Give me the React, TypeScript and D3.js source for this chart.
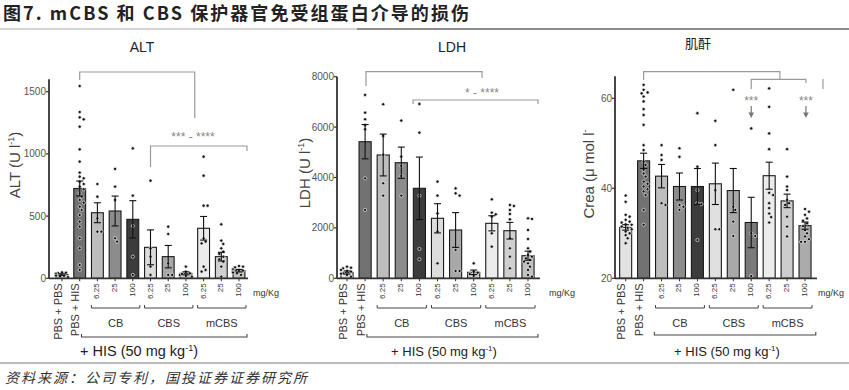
import React from "react";
import * as d3 from "d3";

// ---- data ----
const categories = ["PBS + PBS", "PBS + HIS", "6.25", "25", "100", "6.25", "25", "100", "6.25", "25", "100"];
const groupNames = ["CB", "CBS", "mCBS"];

const altTicks = [0, 500, 1000, 1500];
const altMean = [30, 722, 527, 541, 474, 249, 174, 40, 402, 174, 61];
const altSem = [6, 60, 80, 120, 150, 140, 90, 12, 95, 35, 10];
const altPoints = [
  [45, 48, 42, 30, 25, 20, 15, 35, 10, 28, 38, 22],
  [1546, 1337, 1294, 1278, 1219, 1037, 938, 850, 817, 804, 777, 758, 737, 716, 683, 656, 630, 608, 576, 549, 509, 456, 415, 322, 241, 107, 67],
  [758, 656, 482, 375, 375],
  [879, 737, 630, 322, 295],
  [1045, 665, 421, 174, 27],
  [785, 241, 174, 94, 27],
  [415, 356, 121, 27, 27],
  [94, 27, 40, 19, 54, 35, 13],
  [978, 825, 584, 584, 322, 295, 281, 94, 67, 54],
  [434, 303, 276, 241, 214, 196, 174, 153, 134, 94, 13],
  [99, 88, 72, 67, 54, 46, 27, 40, 94, 62],
];

const ldhTicks = [0, 2000, 4000, 6000, 8000];
const ldhMean = [230, 5420, 4893, 4587, 3571, 2381, 1917, 238, 2182, 1889, 897];
const ldhSem = [60, 680, 830, 620, 1240, 580, 690, 90, 300, 330, 180];
const ldhPoints = [
  [463, 397, 331, 265, 198, 132, 66, 420, 300, 180],
  [7277, 6575, 6311, 6086, 5914, 3969, 2712],
  [6906, 5650, 4900, 3770, 3281],
  [6258, 4829, 4458, 4062, 3281],
  [6919, 5781, 3281, 1164, 754],
  [3837, 3281, 2580, 1852, 595],
  [3572, 3374, 3281, 1125, 291, 291],
  [595, 265, 172, 93, 225],
  [3135, 2606, 2540, 2448, 1786, 1257],
  [2910, 2871, 2712, 2553, 2341, 1588, 1191, 860, 397],
  [2381, 2355, 1918, 1561, 1191, 1058, 926, 860, 794, 728, 661, 595, 463, 331, 132, 66],
];

const creaTicks = [20, 40, 60];
const creaMean = [31.3, 46.1, 42.7, 40.4, 40.4, 41.0, 39.5, 32.4, 42.8, 37.2, 31.7];
const creaSem = [0.6, 1.7, 2.6, 3.0, 4.0, 4.6, 4.9, 5.6, 3.0, 1.5, 0.8];
const creaPoints = [
  [38.4, 37.0, 34.1, 33.7, 33.0, 32.6, 32.4, 31.9, 31.5, 30.9, 30.4, 29.6, 28.9, 27.8, 32.0, 31.2, 30.0],
  [63.0, 61.9, 61.3, 61.1, 60.4, 59.3, 57.6, 56.3, 54.1, 49.6, 48.5, 45.9, 45.2, 44.1, 43.3, 42.6, 41.5, 41.0, 40.4, 39.8, 39.3, 38.5, 35.2, 31.9],
  [49.6, 47.4, 46.3, 36.7, 36.3],
  [48.9, 47.0, 36.3, 35.9, 35.2],
  [56.7, 44.8, 39.6, 36.7, 36.5, 28.5],
  [55.0, 49.6, 39.6, 30.9, 30.9],
  [61.9, 35.9, 35.2, 32.6, 29.4],
  [53.3, 30.0, 29.4, 20.5],
  [62.2, 58.1, 52.2, 48.7, 39.0, 38.5, 36.7, 35.6, 34.4, 33.6, 32.4],
  [48.7, 42.6, 40.4, 39.6, 37.4, 36.7, 36.3, 33.7, 31.5, 29.3],
  [35.4, 34.8, 34.1, 33.3, 32.8, 32.2, 31.6, 30.7, 30.0, 29.3, 28.7, 28.1, 28.1],
];

const FONT = "'Liberation Sans', Arial, Helvetica, sans-serif";
const CJK = "'Noto Sans CJK SC', 'Noto Sans', sans-serif";
const AXIS_Y = 278.3;

const baseFill = ["#e2e2e2", "#727272", "#bdbdbd", "#8c8c8c", "#3c3c3c", "#dcdcdc", "#a8a8a8", "#d0d0d0", "#ececec", "#cfcfcf", "#c2c2c2"];
const creaFill = ["#e2e2e2", "#727272", "#bdbdbd", "#8c8c8c", "#3c3c3c", "#e0e0e0", "#a8a8a8", "#7a7a7a", "#ececec", "#cdcdcd", "#ababab"];

const panels = [
  {
    key: "alt", title: "ALT", titleX: 142, titleY: 52, titleFont: FONT,
    yLabel: ["ALT (U l", "-1", ")"], yLabelX: 20, yLabelY: 165,
    mean: altMean, sem: altSem, points: altPoints, ticks: altTicks, fills: baseFill,
    domain: [0, 1500], range: [AXIS_Y, 91.7], axisTopVal: 1600,
    axisX: 49, axisEnd: 248, xRange: [53.15, 247.85],
    brackets: [
      { a: 1, b: 7.5, y: 72, la: 80, lb: 118 },
      { a: 5, b: 10.45, y: 146, la: 167, lb: 151 },
    ],
    stars: [{ i: 7.4, y: 141, t: "*** - ****" }],
    arrows: [], extra: [],
    bigBrace: [1.1, 10.45, 337], hisX: 4.35, hisSize: 14.5, mgX: 253,
  },
  {
    key: "ldh", title: "LDH", titleX: 452, titleY: 52, titleFont: FONT,
    yLabel: ["LDH (U l", "-1", ")"], yLabelX: 310, yLabelY: 173,
    mean: ldhMean, sem: ldhSem, points: ldhPoints, ticks: ldhTicks, fills: baseFill,
    domain: [0, 8000], range: [AXIS_Y, 76.7], axisTopVal: 8000,
    axisX: 337, axisEnd: 540, xRange: [337.95, 537.05],
    brackets: [
      { a: 1.05, b: 7.46, y: 71.7, la: 86, lb: 78 },
      { a: 3.65, b: 10.55, y: 100, la: 104, lb: 104 },
    ],
    stars: [{ i: 7.46, y: 97, t: "* - ****" }],
    arrows: [], extra: [],
    bigBrace: [1.1, 10.55, 337], hisX: 5.36, hisSize: 13, mgX: 549,
  },
  {
    key: "crea", title: "肌酐", titleX: 698, titleY: 48, titleFont: CJK,
    yLabel: ["Crea (\u03bc mol l", "-", ""], yLabelX: 594, yLabelY: 174,
    mean: creaMean, sem: creaSem, points: creaPoints, ticks: creaTicks, fills: creaFill,
    domain: [20, 60], range: [AXIS_Y, 98.3], axisTopVal: 64.9,
    axisX: 615, axisEnd: 817, xRange: [616.7, 814],
    brackets: [
      { a: 1, b: 8.6, y: 71.7, la: 80, lb: 79.3 },
      { a: 7, b: 10.05, y: 79.3, la: 89, lb: 83 },
    ],
    stars: [{ i: 7, y: 105, t: "***" }, { i: 10.05, y: 105, t: "***" }],
    arrows: [7, 10.05], extra: [{ i: 11, y1: 79, y2: 89 }],
    bigBrace: [1.6, 10.6, 335], hisX: 5.65, hisSize: 13, mgX: 818,
  },
];

type Placed = { dx: number; py: number };

// simple deterministic beeswarm so dots don't sit on top of each other
function swarm(vals: number[], y: (v: number) => number, r: number, maxOff: number): Placed[] {
  const placed: Placed[] = [];
  const out: Placed[] = new Array(vals.length);
  const order = vals.map((_, i) => i).sort((a, b) => vals[b] - vals[a]);
  for (const i of order) {
    const py = y(vals[i]);
    let dx = 0;
    for (let k = 0; k < 24; k++) {
      const cand = k === 0 ? 0 : (k % 2 ? 1 : -1) * Math.ceil(k / 2) * r * 1.25;
      if (Math.abs(cand) > maxOff) continue;
      dx = cand;
      if (placed.every((q) => Math.hypot(q.dx - cand, q.py - py) >= 2 * r + 0.4)) break;
    }
    const p = { dx, py };
    placed.push(p);
    out[i] = p;
  }
  return out;
}

function Panel({ p }: { p: any }) {
  const n = categories.length;
  const x = d3.scaleBand<number>().domain(d3.range(n)).range(p.xRange).paddingInner(0.33).paddingOuter(0.165);
  const step = x.step();
  const bw = x.bandwidth();
  const cx = (i: number) => (x(0) as number) + bw / 2 + i * step;
  const y = d3.scaleLinear().domain(p.domain).range(p.range);
  const base = y(p.domain[0]);
  const r = 1.6;
  const grey = "#9a9a9a";

  return (
    <g>
      <text x={p.titleX} y={p.titleY} textAnchor="middle" fontFamily={p.titleFont} fontSize={p.key === "crea" ? 13 : 14} fill="#222">
        {p.title}
      </text>

      {/* y axis label */}
      <text transform={`translate(${p.yLabelX},${p.yLabelY}) rotate(-90)`} textAnchor="middle" fontFamily={FONT} fontSize={15} fill="#444">
        {p.yLabel[0]}
        <tspan dy={-6} fontSize={9}>{p.yLabel[1]}</tspan>
        <tspan dy={6}>{p.yLabel[2]}</tspan>
      </text>

      {/* bars */}
      {p.mean.map((m: number, i: number) => (
        <rect key={"b" + i} x={x(i)} y={y(m)} width={bw} height={base - y(m)} fill={p.fills[i]} stroke="#1a1a1a" strokeWidth={1.1} />
      ))}

      {/* dots */}
      {p.points.map((vals: number[], i: number) =>
        swarm(vals, y, r, bw / 2 + 1.5).map((d, j) => (
          <circle key={`d${i}-${j}`} cx={cx(i) + d.dx} cy={d.py} r={r} fill="#111" stroke="#f2f2f2" strokeWidth={0.7} />
        ))
      )}

      {/* error bars */}
      {p.mean.map((m: number, i: number) => {
        const hi = y(m + p.sem[i]);
        const lo = y(Math.max(p.domain[0], m - p.sem[i]));
        const c = cx(i);
        return (
          <g key={"e" + i} stroke="#111" strokeWidth={1.1}>
            <line x1={c} x2={c} y1={hi} y2={lo} />
            <line x1={c - 3.5} x2={c + 3.5} y1={hi} y2={hi} />
            <line x1={c - 3.5} x2={c + 3.5} y1={lo} y2={lo} />
          </g>
        );
      })}

      {/* axes */}
      <line x1={p.axisX} x2={p.axisX} y1={y(p.axisTopVal)} y2={base} stroke="#333" strokeWidth={1.8} />
      <line x1={p.axisX} x2={p.axisEnd} y1={base} y2={base} stroke="#333" strokeWidth={1.8} />
      {p.ticks.map((t: number) => (
        <g key={"t" + t}>
          <line x1={p.axisX - 3} x2={p.axisX} y1={y(t)} y2={y(t)} stroke="#333" strokeWidth={1.2} />
          <text x={p.axisX - 3} y={y(t) + 3.5} textAnchor="end" fontFamily={FONT} fontSize={10} fill="#555">{t}</text>
        </g>
      ))}
      {categories.map((_, i) => (
        <line key={"xt" + i} x1={cx(i)} x2={cx(i)} y1={base} y2={base + 3} stroke="#333" strokeWidth={1} />
      ))}

      {/* category labels */}
      {categories.map((c, i) =>
        i < 2 ? (
          <text key={"xl" + i} transform={`translate(${cx(i) - 0.5},${base + 5}) rotate(-90)`} textAnchor="end" fontFamily={FONT} fontSize={11} fill="#333">{c}</text>
        ) : (
          <text key={"xl" + i} transform={`translate(${cx(i) + 2},${base + 5}) rotate(-90)`} textAnchor="end" fontFamily={FONT} fontSize={8} fill="#333">{c}</text>
        )
      )}
      <text x={p.mgX} y={296} fontFamily={FONT} fontSize={9} fill="#333">mg/Kg</text>

      {/* group braces */}
      {groupNames.map((g, k) => {
        const a = cx(2 + k * 3) - 6;
        const b = cx(4 + k * 3) + 7;
        return (
          <g key={"g" + g}>
            <path d={`M${a},305 L${a},308 L${b},308 L${b},305`} fill="none" stroke="#444" strokeWidth={1} />
            <text x={(a + b) / 2} y={327} textAnchor="middle" fontFamily={FONT} fontSize={11} fill="#333">{g}</text>
          </g>
        );
      })}
      <path
        d={`M${cx(p.bigBrace[0])},${p.bigBrace[2] - 3} L${cx(p.bigBrace[0])},${p.bigBrace[2]} L${cx(p.bigBrace[1])},${p.bigBrace[2]} L${cx(p.bigBrace[1])},${p.bigBrace[2] - 3}`}
        fill="none" stroke="#444" strokeWidth={1.1}
      />
      <text x={cx(p.hisX)} y={356} textAnchor="middle" fontFamily={FONT} fontSize={p.hisSize} fill="#222">
        + HIS (50 mg kg<tspan dy={-5} fontSize={p.hisSize * 0.62}>-1</tspan><tspan dy={5}>)</tspan>
      </text>

      {/* significance brackets */}
      {p.brackets.map((br: any, k: number) => (
        <path key={"br" + k} d={`M${cx(br.a)},${br.la} L${cx(br.a)},${br.y} L${cx(br.b)},${br.y} L${cx(br.b)},${br.lb}`} fill="none" stroke={grey} strokeWidth={1.2} />
      ))}
      {p.extra.map((e: any, k: number) => (
        <line key={"ex" + k} x1={cx(e.i)} x2={cx(e.i)} y1={e.y1} y2={e.y2} stroke={grey} strokeWidth={1.2} />
      ))}
      {p.stars.map((s: any, k: number) => (
        <text key={"s" + k} x={cx(s.i)} y={s.y} textAnchor="middle" fontFamily={FONT} fontSize={12} fill="#888">{s.t}</text>
      ))}
      {p.arrows.map((a: number, k: number) => (
        <g key={"ar" + k} stroke="#777" fill="#777">
          <line x1={cx(a)} x2={cx(a)} y1={106} y2={114} strokeWidth={1.2} />
          <path d={`M${cx(a) - 2.8},${112.5} L${cx(a) + 2.8},${112.5} L${cx(a)},${118} Z`} stroke="none" />
        </g>
      ))}
    </g>
  );
}

export default function App() {
  return (
    <svg width={849} height={390} style={{ position: "absolute", left: 0, top: 0, background: "#fff" }}>
      <rect width={849} height={390} fill="#fff" />
      <text x={3} y={20} fontFamily={CJK} fontWeight="bold" fontSize={18} fill="#222" textLength={466} lengthAdjust="spacing">
        图7. mCBS 和 CBS 保护器官免受组蛋白介导的损伤
      </text>
      <line x1={0} x2={357} y1={29} y2={29} stroke="#aaa" strokeWidth={1.2} />
      <line x1={357} x2={849} y1={29} y2={29} stroke="#666" strokeWidth={1.6} />

      {panels.map((p) => (
        <Panel key={p.key} p={p} />
      ))}

      <line x1={0} x2={849} y1={363} y2={363} stroke="#777" strokeWidth={1.2} />
      <text x={5} y={383} fontFamily={CJK} fontStyle="italic" fontSize={14} fill="#333" letterSpacing={2}>
        资料来源：公司专利，国投证券证券研究所
      </text>
    </svg>
  );
}
